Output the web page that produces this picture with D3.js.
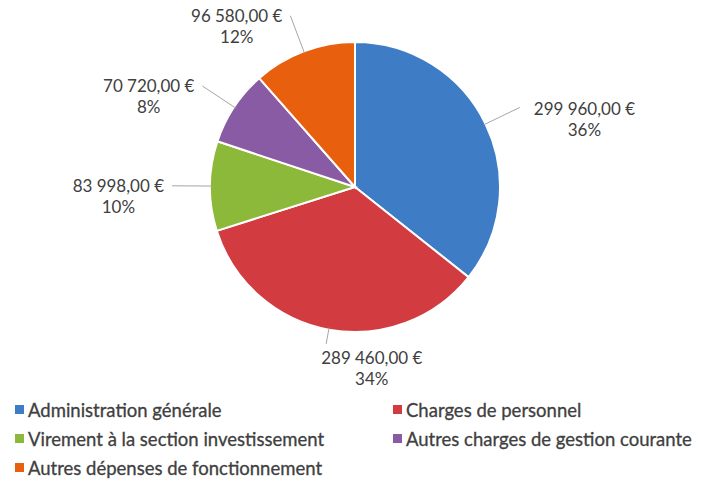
<!DOCTYPE html>
<html>
<head>
  <meta charset="utf-8">
  <script src="https://d3js.org/d3.v7.min.js"></script>
  <style>
    html, body { margin: 0; padding: 0; background: #fff; }
    svg { display: block; font-family: Lato, "Open Sans", sans-serif; }
  </style>
</head>
<body>
  <div id="chart"></div>
  <script>
    // data
    var categories = [
      "Administration générale",
      "Charges de personnel",
      "Virement à la section investissement",
      "Autres charges de gestion courante",
      "Autres dépenses de fonctionnement"
    ];
    var amounts = [299960, 289460, 83998, 70720, 96580];
    var colors = ["#3E7DC5", "#D23B40", "#8DB93A", "#8A5BA5", "#E8600E"];

    var width = 708, height = 479;
    var cx = 355, cy = 187, radius = 145;

    var svg = d3.select("#chart").append("svg")
      .attr("width", width)
      .attr("height", height);

    var data = categories.map(function (c, i) {
      return { name: c, value: amounts[i], color: colors[i] };
    });
    var total = d3.sum(amounts);

    // whole percents that add up to 100 (largest remainder, like Excel)
    var raw = amounts.map(function (v) { return v / total * 100; });
    var pcts = raw.map(Math.floor);
    var left = 100 - d3.sum(pcts);
    d3.range(raw.length)
      .sort(function (a, b) { return (raw[b] - pcts[b]) - (raw[a] - pcts[a]); })
      .slice(0, left)
      .forEach(function (i) { pcts[i] += 1; });
    data.forEach(function (d, i) { d.pct = pcts[i]; });

    var pie = d3.pie().sort(null).value(function (d) { return d.value; });
    var arc = d3.arc().innerRadius(0).outerRadius(radius);
    var arcs = pie(data);

    var g = svg.append("g").attr("transform", "translate(" + cx + "," + cy + ")");

    // slices
    g.selectAll("path.slice")
      .data(arcs)
      .enter().append("path")
      .attr("class", "slice")
      .attr("d", arc)
      .attr("fill", function (d) { return d.data.color; })
      .attr("stroke", "#fff")
      .attr("stroke-width", 2);

    var fmt = d3.formatLocale({ decimal: ",", thousands: "\u202F", grouping: [3], currency: ["", " €"] });
    var money = fmt.format(",.2f");

    function polar(angle, r) {
      return [r * Math.sin(angle), -r * Math.cos(angle)];
    }

    // data labels with leader lines
    arcs.forEach(function (d) {
      var mid = (d.startAngle + d.endAngle) / 2;
      var bottom = Math.cos(mid) < -0.85;
      var p0 = polar(mid, radius - 2);
      var p1 = polar(mid, bottom ? radius * 1.1 : radius + 38);

      g.append("line")
        .attr("x1", p0[0]).attr("y1", p0[1])
        .attr("x2", p1[0]).attr("y2", p1[1])
        .attr("stroke", "#a6a6a6")
        .attr("stroke-width", 1);

      var lab = g.append("g");
      var t1 = lab.append("text")
        .attr("text-anchor", "middle")
        .attr("font-size", 17)
        .attr("fill", "#404040")
        .text(money(d.data.value) + " €");
      lab.append("text")
        .attr("text-anchor", "middle")
        .attr("font-size", 17)
        .attr("y", 21)
        .attr("fill", "#404040")
        .text(d.data.pct + "%");

      var w = t1.node().getComputedTextLength();
      var x, y;
      if (bottom) {
        x = p1[0] - 5 + w / 2; y = p1[1] + 20;
      } else if (Math.sin(mid) > 0) {
        x = p1[0] + 14 + w / 2; y = p1[1] + 8;
      } else {
        x = p1[0] - 8 - w / 2; y = p1[1] + 6;
      }
      lab.attr("transform", "translate(" + x + "," + y + ")");
    });

    // legend
    var legend = svg.append("g").attr("transform", "translate(15,417)");
    var item = legend.selectAll("g.item")
      .data(data)
      .enter().append("g")
      .attr("class", "item")
      .attr("transform", function (d, i) {
        return "translate(" + (i % 2) * 378 + "," + Math.floor(i / 2) * 29 + ")";
      });

    item.append("rect")
      .attr("x", 0).attr("y", -12)
      .attr("width", 9).attr("height", 9)
      .attr("fill", function (d) { return d.color; });

    item.append("text")
      .attr("x", 13)
      .attr("font-size", 18.5)
      .attr("fill", "#404040")
      .attr("stroke", "#404040")
      .attr("stroke-width", 0.3)
      .text(function (d) { return d.name; });
  </script>
</body>
</html>
